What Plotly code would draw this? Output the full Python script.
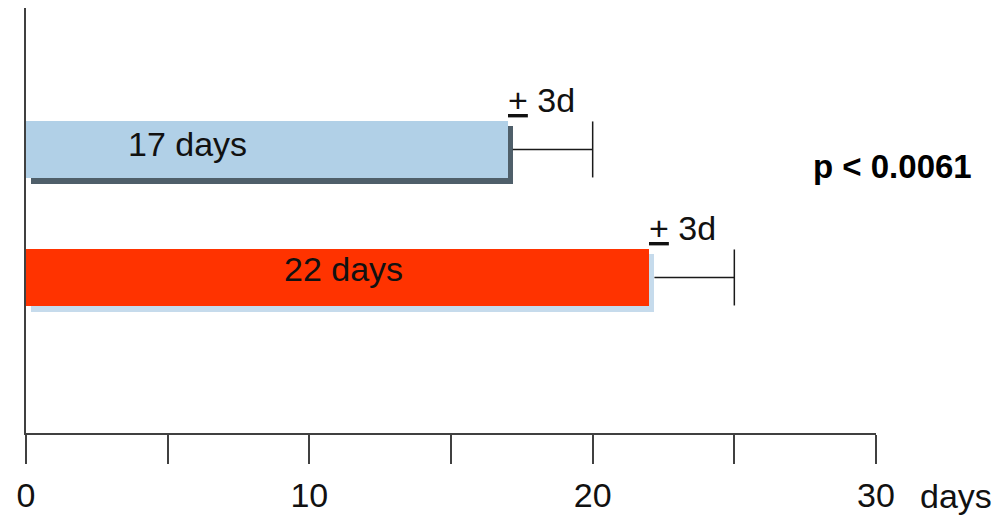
import plotly.graph_objects as go

# ---- data ----
means = [17, 22]
sds = [3, 3]
bar_labels = ["17 days", "22 days"]
err_labels = ["+ 3d", "+ 3d"]
tick_vals = [0, 5, 10, 15, 20, 25, 30]
tick_text = ["0", "", "10", "", "20", "", "30"]
axis_unit = "days"
p_text = "p < 0.0061"

# ---- style ----
FONT = "Liberation Sans, Arial, sans-serif"
bar_colors = ["#B1D0E7", "#FF3300"]
shadow_colors = ["#4F5F6A", "#C6DBEC"]
axis_color = "#404040"
err_color = "#1a1a1a"
shadow_dx = 0.18   # data units (~5 px)
shadow_dy = 0.045
bar_w = 0.45
ypos = [i + 1 for i in range(len(means))]
label_x = [5.7, 11.2]
label_shift = [5, 8]

fig = go.Figure()

# shadows
for i, m in enumerate(means):
    fig.add_trace(go.Bar(x=[m], base=[shadow_dx], y=[ypos[i] + shadow_dy], orientation="h",
                         width=bar_w, marker=dict(color=shadow_colors[i], line=dict(width=0)),
                         showlegend=False, hoverinfo="skip"))
# main bars
for i, m in enumerate(means):
    fig.add_trace(go.Bar(x=[m], y=[ypos[i]], orientation="h", width=bar_w,
                         marker=dict(color=bar_colors[i], line=dict(width=0)),
                         showlegend=False))
# error bars (stem + cap)
for i, m in enumerate(means):
    fig.add_trace(go.Scatter(x=[m + shadow_dx, m + sds[i]], y=[ypos[i], ypos[i]], mode="lines",
                             line=dict(color=err_color, width=1.5), showlegend=False, hoverinfo="skip"))
    fig.add_trace(go.Scatter(x=[m + sds[i]], y=[ypos[i]], mode="markers",
                             marker=dict(symbol="line-ns", size=40, color=err_color,
                                         line=dict(color=err_color, width=1.5)),
                             showlegend=False, hoverinfo="skip"))

annotations = []
for i, m in enumerate(means):
    annotations.append(dict(x=label_x[i], y=ypos[i], text=bar_labels[i], showarrow=False,
                            xref="x", yref="y", yshift=label_shift[i],
                            font=dict(family=FONT, size=34, color="#111")))
    plus, rest = err_labels[i].split(" ", 1)
    annotations.append(dict(x=m, y=ypos[i], xanchor="left", yanchor="middle", showarrow=False,
                            xref="x", yref="y", yshift=49, xshift=-2,
                            text='<span style="text-decoration:underline">' + plus + '</span> ' + rest,
                            font=dict(family=FONT, size=34, color="#111")))
annotations.append(dict(x=1.019, y=0.627, xref="paper", yref="paper", xanchor="center",
                        yanchor="middle", showarrow=False,
                        text="<b>" + p_text + "</b>", font=dict(family=FONT, size=33, color="#000")))
annotations.append(dict(x=1, y=0, xref="paper", yref="paper", xanchor="left", yanchor="middle",
                        xshift=42, yshift=-63, showarrow=False, text=axis_unit,
                        font=dict(family=FONT, size=34, color="#111")))

fig.update_layout(
    width=995, height=517,
    margin=dict(l=26, r=119, t=8, b=84, autoexpand=False),
    paper_bgcolor="white", plot_bgcolor="white",
    barmode="overlay", bargap=0,
    annotations=annotations,
    xaxis=dict(range=[0, 30], tickvals=tick_vals, ticktext=tick_text, ticks="outside",
               ticklen=29, tickwidth=1.5, tickcolor=axis_color, showline=True,
               linecolor=axis_color, linewidth=1.5, showgrid=False, zeroline=False,
               ticklabelstandoff=2, automargin=False,
               tickfont=dict(family=FONT, size=34, color="#111")),
    yaxis=dict(range=[3.215, -0.105], showline=True, linecolor=axis_color, linewidth=1.5,
               showticklabels=False, ticks="", showgrid=False, zeroline=False, automargin=False),
)

fig.write_html("out.html", config={"displayModeBar": False},
               post_script="document.body.style.margin='0';")
